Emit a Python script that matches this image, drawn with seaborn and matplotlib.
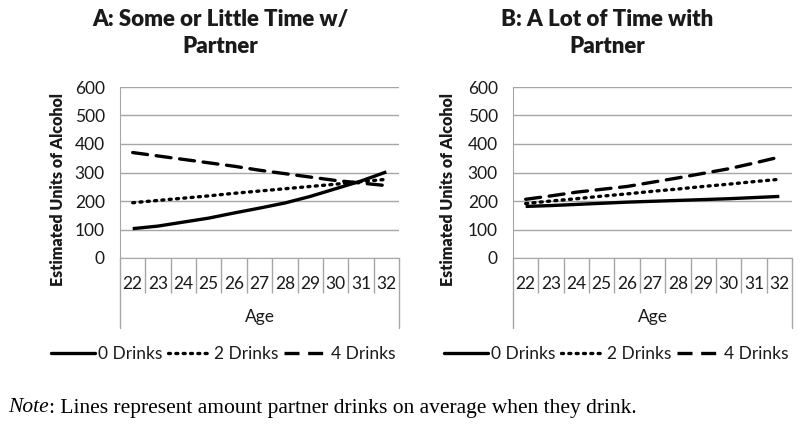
"""
Estimated units of alcohol by age, split by time spent with partner.
"""

import numpy as np
import pandas as pd
import matplotlib
matplotlib.use('Agg')
import matplotlib.pyplot as plt
from matplotlib.lines import Line2D
import seaborn as sns

sns.set_style("white")
plt.rcParams['font.family'] = ['Lato', 'DejaVu Sans']

# Data
ages = ['22', '23', '24', '25', '26', '27', '28', '29', '30', '31', '32']
series_names = ['0 Drinks', '2 Drinks', '4 Drinks']

a_0 = [103, 112, 126, 140, 158, 175, 193, 216, 243, 270, 302]
a_2 = [194, 202, 210, 218, 227, 235, 243, 251, 259, 268, 276]
a_4 = [370, 358, 346, 334, 322, 308, 296, 284, 272, 263, 254]

b_0 = [181, 184, 188, 192, 196, 199, 202, 205, 208, 212, 216]
b_2 = [191, 200, 208, 217, 225, 234, 242, 251, 259, 268, 276]
b_4 = [206, 218, 231, 241, 251, 266, 281, 297, 313, 333, 354]

titles = ['A: Some or Little Time w/\nPartner', 'B: A Lot of Time with\nPartner']
y_ticks = [0, 100, 200, 300, 400, 500, 600]


def make_frame(v0, v2, v4):
    frames = []
    for name, vals in zip(series_names, [v0, v2, v4]):
        frames.append(pd.DataFrame({'age': ages, 'units': vals, 'series': name}))
    return pd.concat(frames, ignore_index=True)


panels = [make_frame(a_0, a_2, a_4), make_frame(b_0, b_2, b_4)]

fig = plt.figure(figsize=(8, 4.38), dpi=100)
W, H = 800, 438
grid_color = '#a6a6a6'
text_color = '#1a1a1a'

axes_left = [120, 513]
title_x = [220, 607]
ylabel_x = [58, 448]
ax_w = 279
ax_top, ax_bot = 87, 258

dash_map = {'0 Drinks': '', '2 Drinks': (0.6, 1.6), '4 Drinks': (4.5, 2.6)}

for i, df in enumerate(panels):
    ax = fig.add_axes([axes_left[i] / W, 1 - ax_bot / H, ax_w / W, (ax_bot - ax_top) / H])
    sns.lineplot(data=df, x='age', y='units', hue='series', style='series',
                 palette=['black'] * 3, dashes=dash_map, linewidth=2.4,
                 sort=False, legend=False, ax=ax)
    for ln in ax.lines:
        ln.set_dash_capstyle('round')
        ln.set_solid_capstyle('butt')

    ax.set_xlim(-0.5, len(ages) - 0.5)
    ax.set_ylim(0, 600)
    ax.set_yticks(y_ticks)
    ax.set_yticklabels([str(t) for t in y_ticks], fontsize=12.5, color=text_color)
    ax.tick_params(axis='y', length=0, pad=11)
    ax.yaxis.grid(True, color=grid_color, linewidth=1)
    ax.xaxis.grid(False)

    # category cells below the axis
    ax.set_xticks(range(len(ages)))
    ax.set_xticklabels(ages, fontsize=12.5, color=text_color)
    ax.tick_params(axis='x', which='major', bottom=True, length=0, pad=13)
    ax.set_xticks(np.arange(0.5, len(ages) - 1, 1.0), minor=True)
    ax.tick_params(axis='x', which='minor', bottom=True, length=25, width=1,
                   color=grid_color, direction='out')

    for side in ['top', 'right']:
        ax.spines[side].set_visible(False)
    ax.spines['left'].set_color(grid_color)
    ax.spines['bottom'].set_color(grid_color)

    depth = (328 - ax_bot) / (ax_bot - ax_top)
    for xe in [0, 1]:
        ax.add_line(Line2D([xe, xe], [0, -depth], transform=ax.transAxes,
                           color=grid_color, linewidth=1, clip_on=False))

    ax.set_xlabel('')
    ax.set_ylabel('')
    ax.text(0.5, -(317 - ax_bot) / (ax_bot - ax_top), 'Age', transform=ax.transAxes,
            ha='center', va='center', fontsize=12.5, color=text_color)

    handles = [Line2D([], [], color='black', linewidth=2.4, linestyle='-'),
               Line2D([], [], color='black', linewidth=2.4, linestyle=(0, (0.6, 1.6)),
                      dash_capstyle='round'),
               Line2D([], [], color='black', linewidth=2.4, linestyle=(0, (4.5, 2.6)))]
    ax.legend(handles, series_names, loc='center', ncol=3, frameon=False,
              bbox_to_anchor=(0.37, -(354 - ax_bot) / (ax_bot - ax_top)),
              fontsize=12.5, handlelength=2.55, handletextpad=0.15, columnspacing=0.3,
              labelcolor=text_color)

    fig.text(title_x[i] / W, 1 - 33 / H, titles[i], ha='center', va='center',
             fontsize=16, fontweight='heavy', color=text_color, linespacing=1.35)
    fig.text(ylabel_x[i] / W, 1 - 190 / H, 'Estimated Units of Alcohol', rotation=90,
             ha='center', va='center', fontsize=11.5, fontweight='heavy', color=text_color)

note_y = 1 - 408 / H
t_note = fig.text(8 / W, note_y, 'Note', ha='left', va='center', fontsize=15.5,
                  family='Liberation Serif', style='italic', color='black')
fig.canvas.draw()
bb = t_note.get_window_extent(renderer=fig.canvas.get_renderer())
fig.text(bb.x1 / W, note_y, ': Lines represent amount partner drinks on average when they drink.',
         ha='left', va='center', fontsize=15.5, family='Liberation Serif', color='black')

plt.savefig('out.png', dpi=100)
plt.close()
